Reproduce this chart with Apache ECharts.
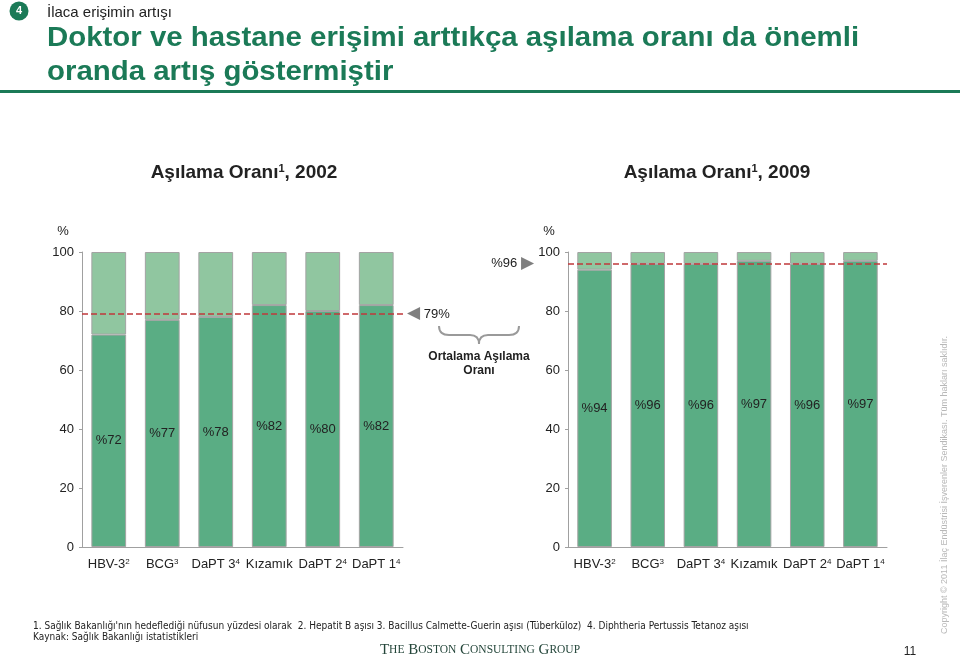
<!DOCTYPE html>
<html>
<head>
<meta charset="utf-8">
<script src="https://cdn.jsdelivr.net/npm/echarts@6/dist/echarts.min.js"></script>
<style>html,body{margin:0;padding:0;background:#fff;}#c{width:960px;height:658px;}</style>
</head>
<body>
<div id="c"></div>
<script>
const categories = ['HBV-3', 'BCG', 'DaPT 3', 'Kızamık', 'DaPT 2', 'DaPT 1'];
const catSup = ['2', '3', '4', '', '4', '4'];
const rate2002 = [72, 77, 78, 82, 80, 82];
const rate2009 = [94, 96, 96, 97, 96, 97];
const avg2002 = 79;
const avg2009 = 96;
const fullScale = 100;

const FONT = "'Liberation Sans', Arial, sans-serif";
const DARK = '#5aad84';
const LIGHT = '#90c6a0';
const BORDER = '#a3a3a3';
const AXIS = '#a0a0a0';
const GREEN = '#1b7a57';

const chart = echarts.init(document.getElementById('c'));

function xAxisCfg(idx) {
  return {
    type: 'category', gridIndex: idx, data: categories,
    axisLine: { lineStyle: { color: AXIS } },
    axisTick: { length: 4, lineStyle: { color: AXIS } },
    axisLabel: {
      interval: 0, hideOverlap: false,
      margin: 11, color: '#222', fontFamily: FONT, fontSize: 13,
      formatter: function (v, i) { return catSup[i] ? v + '{s|' + catSup[i] + '}' : v; },
      rich: { s: { fontSize: 8, fontFamily: FONT, color: '#222', verticalAlign: 'top', lineHeight: 9 } }
    }
  };
}
function yAxisCfg(idx) {
  return {
    type: 'value', gridIndex: idx, min: 0, max: 100, interval: 20,
    name: '%', nameLocation: 'end', nameGap: 14,
    nameTextStyle: { color: '#222', fontFamily: FONT, fontSize: 13, align: 'center', padding: [0, 38, 0, 0] },
    axisLine: { show: true, lineStyle: { color: AXIS } },
    axisTick: { show: true, length: 3, lineStyle: { color: AXIS } },
    splitLine: { show: false },
    axisLabel: { margin: 8, color: '#222', fontFamily: FONT, fontSize: 13 }
  };
}
function series(idx, vals, avg, side) {
  const markLabel = side === 'end'
    ? { position: 'end', distance: 4, formatter: '{t|◀} ' + avg + '%' }
    : { position: 'start', distance: 34, formatter: '%' + avg + ' {t|▶}' };
  return [
    {
      type: 'bar', stack: 's' + idx, xAxisIndex: idx, yAxisIndex: idx,
      data: vals, barCategoryGap: '35%',
      itemStyle: { color: DARK, borderColor: BORDER, borderWidth: 1 },
      label: { show: true, position: 'inside', color: '#222', fontFamily: FONT, fontSize: 13,
        formatter: function (p) { return '%' + p.value; } },
      markLine: {
        silent: true, symbol: ['none', 'none'],
        lineStyle: { color: '#c0393b', type: 'dashed', width: 1.5 },
        label: Object.assign({ show: true, color: '#222', fontFamily: FONT, fontSize: 13,
          rich: { t: { fontFamily: "'DejaVu Sans', sans-serif", fontSize: 17, color: '#7f7f7f' } } }, markLabel),
        data: [{ yAxis: avg }]
      }
    },
    {
      type: 'bar', stack: 's' + idx, xAxisIndex: idx, yAxisIndex: idx,
      data: vals.map(function (v) { return fullScale - v; }), barCategoryGap: '35%',
      itemStyle: { color: LIGHT, borderColor: BORDER, borderWidth: 1 }
    }
  ];
}

const sectionTitle = function (x, year) {
  return {
    type: 'text', x: x, y: 173,
    style: {
      text: 'Aşılama Oranı{s|1}, ' + year, fontFamily: FONT, fontWeight: 'bold', fontSize: 19, fill: '#222',
      align: 'center', verticalAlign: 'middle',
      rich: { s: { fontSize: 11, fontWeight: 'bold', fontFamily: FONT, fill: '#222', verticalAlign: 'top', lineHeight: 12 } }
    }
  };
};
const braceStyle = { fill: 'none', stroke: '#9a9a9a', lineWidth: 2 };

chart.setOption({
  animation: false,
  textStyle: { fontFamily: FONT },
  grid: [
    { left: 82, top: 252, width: 321, height: 295 },
    { left: 568, top: 252, width: 319, height: 295 }
  ],
  xAxis: [xAxisCfg(0), xAxisCfg(1)],
  yAxis: [yAxisCfg(0), yAxisCfg(1)],
  series: series(0, rate2002, avg2002, 'end').concat(series(1, rate2009, avg2009, 'start')),
  graphic: [
    { type: 'circle', shape: { cx: 19, cy: 11, r: 9.5 }, style: { fill: GREEN } },
    { type: 'text', x: 19, y: 11, style: { text: '4', fontFamily: FONT, fontWeight: 'bold', fontSize: 11, fill: '#fff', align: 'center', verticalAlign: 'middle' } },
    { type: 'text', x: 47, y: 13, style: { text: 'İlaca erişimin artışı', fontFamily: FONT, fontSize: 15, fill: '#222', verticalAlign: 'middle' } },
    { type: 'text', x: 47, y: 38, scaleX: 1.05, style: { text: 'Doktor ve hastane erişimi arttıkça aşılama oranı da önemli', fontFamily: FONT, fontWeight: 'bold', fontSize: 28, fill: GREEN, verticalAlign: 'middle' } },
    { type: 'text', x: 47, y: 72, scaleX: 1.05, style: { text: 'oranda artış göstermiştir', fontFamily: FONT, fontWeight: 'bold', fontSize: 28, fill: GREEN, verticalAlign: 'middle' } },
    { type: 'rect', shape: { x: 0, y: 90, width: 960, height: 3 }, style: { fill: GREEN } },
    sectionTitle(244, '2002'),
    sectionTitle(717, '2009'),
    { type: 'bezierCurve', shape: { x1: 439, y1: 326, cpx1: 439, cpy1: 335, x2: 449, y2: 335 }, style: braceStyle },
    { type: 'line', shape: { x1: 449, y1: 335, x2: 470, y2: 335 }, style: braceStyle },
    { type: 'bezierCurve', shape: { x1: 470, y1: 335, cpx1: 479, cpy1: 335, x2: 479, y2: 344 }, style: braceStyle },
    { type: 'bezierCurve', shape: { x1: 479, y1: 344, cpx1: 479, cpy1: 335, x2: 488, y2: 335 }, style: braceStyle },
    { type: 'line', shape: { x1: 488, y1: 335, x2: 509, y2: 335 }, style: braceStyle },
    { type: 'bezierCurve', shape: { x1: 509, y1: 335, cpx1: 519, cpy1: 335, x2: 519, y2: 326 }, style: braceStyle },
    { type: 'text', x: 479, y: 357, style: { text: 'Ortalama Aşılama', fontFamily: FONT, fontWeight: 'bold', fontSize: 12, fill: '#222', align: 'center', verticalAlign: 'middle' } },
    { type: 'text', x: 479, y: 371, style: { text: 'Oranı', fontFamily: FONT, fontWeight: 'bold', fontSize: 12, fill: '#222', align: 'center', verticalAlign: 'middle' } },
    { type: 'text', x: 33, y: 626, style: { text: "1. Sağlık Bakanlığı'nın hedeflediği nüfusun yüzdesi olarak  2. Hepatit B aşısı 3. Bacillus Calmette-Guerin aşısı (Tüberküloz)  4. Diphtheria Pertussis Tetanoz aşısı", fontFamily: "'Liberation Sans Narrow', 'DejaVu Sans Condensed', sans-serif", fontSize: 10, fill: '#222', verticalAlign: 'middle' } },
    { type: 'text', x: 33, y: 637, style: { text: 'Kaynak: Sağlık Bakanlığı istatistikleri', fontFamily: "'Liberation Sans Narrow', 'DejaVu Sans Condensed', sans-serif", fontSize: 10, fill: '#222', verticalAlign: 'middle' } },
    { type: 'text', x: 480, y: 650, style: { text: 'T{s|HE} B{s|OSTON} C{s|ONSULTING} G{s|ROUP}', fontFamily: "'Liberation Serif', serif", fontSize: 15, fill: '#24463a', align: 'center', verticalAlign: 'middle',
      rich: { s: { fontFamily: "'Liberation Serif', serif", fontSize: 11.5, fill: '#24463a' } } } },
    { type: 'text', x: 910, y: 652, style: { text: '11', fontFamily: FONT, fontSize: 12, fill: '#222', align: 'center', verticalAlign: 'middle' } },
    { type: 'text', x: 945, y: 485, rotation: Math.PI / 2, style: { text: 'Copyright © 2011 İlaç Endüstrisi İşverenler Sendikası. Tüm hakları saklıdır.', fontFamily: FONT, fontSize: 9, fill: '#b8b8b8', align: 'center', verticalAlign: 'middle' } }
  ]
});
</script>
</body>
</html>
